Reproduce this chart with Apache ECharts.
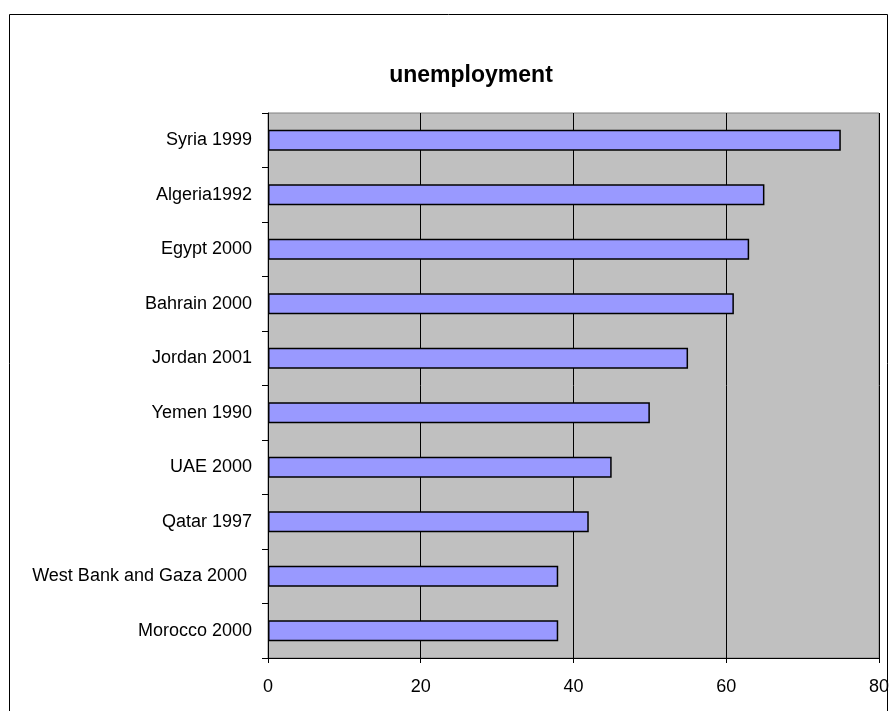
<!DOCTYPE html>
<html>
<head>
<meta charset="utf-8">
<script src="https://cdn.jsdelivr.net/npm/echarts@6/dist/echarts.min.js"></script>
<style>
  html, body { margin: 0; padding: 0; background: #fff; }
  #chart { width: 892px; height: 711px; }
</style>
</head>
<body>
<div id="chart"></div>
<script>
// Unemployment by country and survey year, listed top to bottom
const categories = [
  'Syria 1999',
  'Algeria1992',
  'Egypt 2000',
  'Bahrain 2000',
  'Jordan 2001',
  'Yemen 1990',
  'UAE 2000',
  'Qatar 1997',
  'West Bank and Gaza 2000 ',
  'Morocco 2000'
];
const values = [75, 65, 63, 61, 55, 50, 45, 42, 38, 38];
const xTicks = [0, 20, 40, 60, 80];

const FONT = '"Liberation Sans", Arial, sans-serif';

const chart = echarts.init(document.getElementById('chart'), null, { renderer: 'canvas' });

chart.setOption({
  animation: false,
  backgroundColor: '#ffffff',
  title: {
    text: 'unemployment',
    left: 471,
    textAlign: 'center',
    top: 64,
    padding: 0,
    textStyle: { fontFamily: FONT, fontSize: 23, fontWeight: 'bold', color: '#000' }
  },
  graphic: [{
    type: 'rect',
    shape: { x: 9.5, y: 14.5, width: 878, height: 720 },
    style: { fill: 'none', stroke: '#000', lineWidth: 1 },
    silent: true
  }],
  grid: {
    left: 268, right: 12, top: 113, bottom: 53,
    show: true,
    backgroundColor: '#C0C0C0',
    borderColor: '#808080',
    borderWidth: 1
  },
  xAxis: {
    type: 'value',
    min: xTicks[0],
    max: xTicks[xTicks.length - 1],
    interval: xTicks[1] - xTicks[0],
    axisLine: { show: true, lineStyle: { color: '#000', width: 1 } },
    axisTick: { show: true, length: 5, lineStyle: { color: '#000' } },
    splitLine: { show: true, lineStyle: { color: '#000', width: 1 } },
    axisLabel: { fontFamily: FONT, fontSize: 18, color: '#000', margin: 20 }
  },
  yAxis: {
    type: 'category',
    data: categories,
    inverse: true,
    axisLine: { show: true, lineStyle: { color: '#000', width: 1 } },
    axisTick: { show: true, length: 6, lineStyle: { color: '#000' } },
    axisLabel: { fontFamily: FONT, fontSize: 18, color: '#000', margin: 16 }
  },
  series: [{
    type: 'bar',
    data: values,
    barWidth: 21,
    itemStyle: { color: '#9999FF', borderColor: '#000', borderWidth: 1.5 }
  }]
});
</script>
</body>
</html>
